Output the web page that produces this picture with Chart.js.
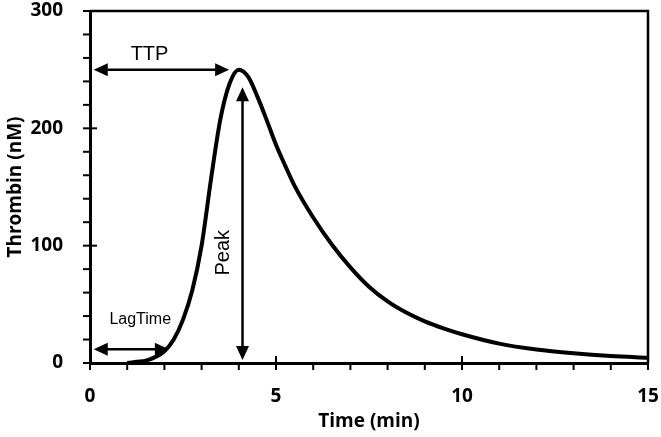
<!DOCTYPE html>
<html>
<head>
<meta charset="utf-8">
<script src="https://cdn.jsdelivr.net/npm/chart.js@4/dist/chart.umd.min.js"></script>
<style>
  html, body { margin: 0; padding: 0; background: #fff; }
  #wrap { width: 661px; height: 437px; }
</style>
</head>
<body>
<div id="wrap"><canvas id="tgChart"></canvas></div>
<script>
// Thrombin generation curve
const timeMin = [1.0, 1.25, 1.5, 1.75, 2.0, 2.25, 2.5, 2.75, 3.0, 3.25, 3.5, 3.75, 4.0,
  4.25, 4.5, 4.75, 5.0, 5.25, 5.5, 6.0, 6.5, 7.0, 7.5, 8.0, 8.5, 9.0, 9.5, 10.0,
  11.0, 12.0, 13.0, 14.0, 15.0];
const thrombinNM = [0, 1, 2, 5, 10, 20, 37, 62, 100, 156, 207, 238, 250,
  244, 227, 207, 186, 168, 151, 124, 101, 81.5, 65, 52.5, 43, 35.5, 29.5, 24.5,
  16.5, 11.5, 8.3, 6, 4.5];

const xTicks = [0, 5, 10, 15];
const yTicks = [0, 100, 200, 300];

// annotation arrows, in data units [x1, y1, x2, y2]
const ttpArrow = [0.1, 250, 3.74, 250];
const peakArrow = [4.1, 235, 4.1, 2.5];
const lagArrow = [0.1, 11.7, 2.12, 11.7];

// annotation labels [text, x, y, rotation, size]
const noteLabels = [
  ['TTP', 1.6, 263, 0, 20],
  ['LagTime', 1.35, 37, 0, 16],
  ['Peak', 3.58, 94, -90, 20]
];

const points = timeMin.map((t, i) => ({ x: t, y: thrombinNM[i] }));

function arrowHead(ctx, x, y, ang) {
  const len = 14, half = 6.5;
  ctx.beginPath();
  ctx.moveTo(x, y);
  ctx.lineTo(x - len * Math.cos(ang) + half * Math.sin(ang), y - len * Math.sin(ang) - half * Math.cos(ang));
  ctx.lineTo(x - len * Math.cos(ang) - half * Math.sin(ang), y - len * Math.sin(ang) + half * Math.cos(ang));
  ctx.closePath();
  ctx.fill();
}

const decorPlugin = {
  id: 'decor',
  afterDatasetsDraw(chart) {
    const ctx = chart.ctx;
    const xs = chart.scales.x, ys = chart.scales.y;
    const a = chart.chartArea;
    ctx.save();
    ctx.strokeStyle = '#000';
    ctx.fillStyle = '#000';

    // frame top + right
    ctx.lineWidth = 2.5;
    ctx.beginPath();
    ctx.moveTo(a.left, a.top);
    ctx.lineTo(a.right, a.top);
    ctx.lineTo(a.right, a.bottom);
    ctx.stroke();

    // ticks
    ctx.lineWidth = 2;
    for (let v = 0; v <= 300; v += 20) {
      const py = ys.getPixelForValue(v);
      const major = v % 100 === 0;
      ctx.beginPath();
      ctx.moveTo(a.left - 7, py);
      ctx.lineTo(a.left + (major ? 7 : 0), py);
      ctx.stroke();
    }
    for (let v = 0; v <= 15; v += 1) {
      const px = xs.getPixelForValue(v);
      const major = v % 5 === 0;
      ctx.beginPath();
      ctx.moveTo(px, a.bottom + 7);
      ctx.lineTo(px, a.bottom - (major ? 7 : 0));
      ctx.stroke();
    }

    // arrows
    ctx.lineWidth = 2.5;
    [ttpArrow, peakArrow, lagArrow].forEach(ar => {
      const x1 = xs.getPixelForValue(ar[0]), y1 = ys.getPixelForValue(ar[1]);
      const x2 = xs.getPixelForValue(ar[2]), y2 = ys.getPixelForValue(ar[3]);
      const ang = Math.atan2(y2 - y1, x2 - x1);
      ctx.beginPath();
      ctx.moveTo(x1 + 8 * Math.cos(ang), y1 + 8 * Math.sin(ang));
      ctx.lineTo(x2 - 8 * Math.cos(ang), y2 - 8 * Math.sin(ang));
      ctx.stroke();
      arrowHead(ctx, x2, y2, ang);
      arrowHead(ctx, x1, y1, ang + Math.PI);
    });

    // labels
    ctx.textAlign = 'center';
    ctx.textBaseline = 'middle';
    noteLabels.forEach(l => {
      ctx.save();
      ctx.translate(xs.getPixelForValue(l[1]), ys.getPixelForValue(l[2]));
      ctx.rotate(l[3] * Math.PI / 180);
      ctx.font = l[4] + 'px "Liberation Sans", Arial, sans-serif';
      ctx.fillText(l[0], 0, 0);
      ctx.restore();
    });
    ctx.restore();
  }
};

const tickFont = { family: '"Open Sans", sans-serif', size: 19, weight: 'bold' };

new Chart(document.getElementById('tgChart').getContext('2d'), {
  type: 'line',
  data: {
    datasets: [{
      label: 'Thrombin',
      data: points,
      borderColor: '#000',
      borderWidth: 4,
      pointRadius: 0,
      fill: false,
      cubicInterpolationMode: 'monotone',
      borderCapStyle: 'butt'
    }]
  },
  options: {
    responsive: true,
    maintainAspectRatio: false,
    animation: false,
    layout: { padding: { top: 11, right: 13, left: 0, bottom: 0 } },
    plugins: {
      legend: { display: false },
      tooltip: { enabled: false }
    },
    scales: {
      x: {
        type: 'linear',
        min: 0,
        max: 15,
        afterBuildTicks: s => { s.ticks = xTicks.map(v => ({ value: v })); },
        afterFit: s => { s.height = 74; s.paddingLeft = 0; s.paddingRight = 0; },
        grid: { display: false },
        border: { display: true, color: '#000', width: 3 },
        ticks: { color: '#000', font: tickFont, padding: 14 },
        title: {
          display: true,
          text: 'Time (min)',
          color: '#000',
          font: tickFont,
          padding: { top: 8 }
        }
      },
      y: {
        min: 0,
        max: 300,
        afterBuildTicks: s => { s.ticks = yTicks.map(v => ({ value: v })); },
        afterFit: s => { s.width = 90; s.paddingTop = 0; s.paddingBottom = 0; },
        grid: { display: false },
        border: { display: true, color: '#000', width: 3 },
        ticks: { color: '#000', font: tickFont, padding: 19 },
        title: {
          display: true,
          text: 'Thrombin (nM)',
          color: '#000',
          font: tickFont,
          padding: { bottom: 0 }
        }
      }
    }
  },
  plugins: [decorPlugin]
});
</script>
</body>
</html>
